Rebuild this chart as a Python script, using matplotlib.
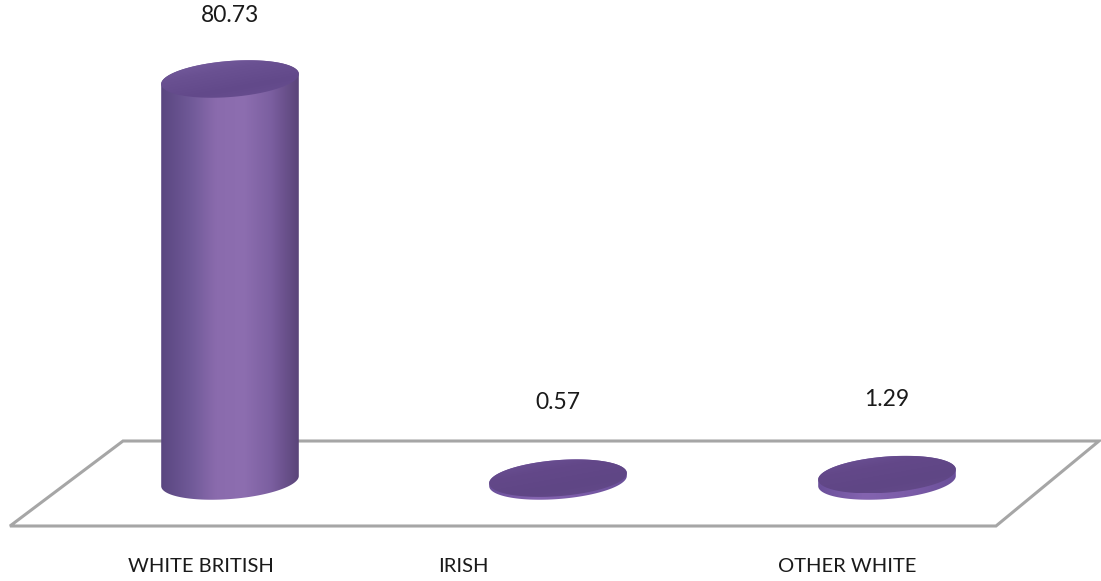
import numpy as np
import matplotlib
matplotlib.use("Agg")
import matplotlib.pyplot as plt
from matplotlib.colors import LinearSegmentedColormap
from matplotlib.patches import Polygon

# Data
categories = ["WHITE BRITISH", "IRISH", "OTHER WHITE"]
values = [80.73, 0.57, 1.29]
value_labels = ["80.73", "0.57", "1.29"]

W, H = 1101, 581
fig = plt.figure(figsize=(W / 100, H / 100), dpi=100)
ax = fig.add_axes([0, 0, 1, 1])
ax.set_xlim(0, W)
ax.set_ylim(H, 0)
ax.axis("off")

plt.rcParams["font.family"] = ["Lato", "DejaVu Sans"]

# Floor geometry (pixel-like coordinates, y grows downward)
floor = np.array([[123, 441], [1099, 441], [996, 526], [10, 526]])
ax.add_patch(Polygon(floor, closed=True, facecolor="white", edgecolor="#a6a6a6",
                     linewidth=2.2, zorder=1))

# Bar layout
bar_x = [230, 558, 887]
base_y = 481
rx, ry = 69, 18
tilt = np.deg2rad(-4.5)
px_per_unit = 402 / 80.73

side_cmap = LinearSegmentedColormap.from_list(
    "side", ["#5a4680", "#6e5896", "#8a6bad", "#8d6eb0", "#7b5fa0", "#5a4479"])
top_cmap = LinearSegmentedColormap.from_list(
    "top", ["#7a61a3", "#6a5192", "#62498a", "#6b5193"])


def ellipse_pts(cx, cy, n=400):
    t = np.linspace(0, 2 * np.pi, n, endpoint=False)
    x = rx * np.cos(t) * np.cos(tilt) - ry * np.sin(t) * np.sin(tilt)
    y = rx * np.cos(t) * np.sin(tilt) + ry * np.sin(t) * np.cos(tilt)
    return np.column_stack([cx + x, cy + y])


def split_arcs(pts):
    """Return (upper arc left->right, lower arc right->left) of an ellipse."""
    i0, i1 = np.argmin(pts[:, 0]), np.argmax(pts[:, 0])
    n = len(pts)
    idx_a = [(i1 + k) % n for k in range((i0 - i1) % n + 1)]
    idx_b = [(i0 + k) % n for k in range((i1 - i0) % n + 1)]
    arc_a, arc_b = pts[idx_a], pts[idx_b]  # a: right->left, b: left->right
    if arc_a[:, 1].mean() > arc_b[:, 1].mean():
        return arc_b, arc_a
    return arc_a[::-1], arc_b[::-1]


grad = np.linspace(0, 1, 256)[None, :]

for i, (cx, v) in enumerate(zip(bar_x, values)):
    h = v * px_per_unit
    top_cy = base_y - h
    bot = ellipse_pts(cx, base_y)
    top = ellipse_pts(cx, top_cy)
    top_upper, _ = split_arcs(top)
    _, bot_lower = split_arcs(bot)
    side = np.vstack([top_upper, bot_lower])
    side_patch = Polygon(side, closed=True, facecolor="none", edgecolor="none", zorder=2)
    ax.add_patch(side_patch)
    x0, x1 = side[:, 0].min(), side[:, 0].max()
    y0, y1 = side[:, 1].min(), side[:, 1].max()
    cmap = side_cmap if h > 20 else LinearSegmentedColormap.from_list(
        "disk_side", ["#6a4f99", "#8464b0", "#7b5ca8", "#6a4f99"])
    im = ax.imshow(grad, cmap=cmap, extent=[x0, x1, y1, y0], aspect="auto",
                   zorder=2, interpolation="bicubic")
    im.set_clip_path(side_patch)

    # top face
    top_patch = Polygon(top, closed=True, facecolor="none", edgecolor="none", zorder=3)
    ax.add_patch(top_patch)
    tx0, tx1 = top[:, 0].min(), top[:, 0].max()
    ty0, ty1 = top[:, 1].min(), top[:, 1].max()
    tgrad = np.linspace(0, 1, 256)[:, None] * 0.6 + np.linspace(0, 1, 256)[None, :] * 0.4
    tcmap = top_cmap if h > 20 else LinearSegmentedColormap.from_list(
        "disk_top", ["#6f559a", "#634889", "#5f4685", "#664c8c"])
    im2 = ax.imshow(tgrad, cmap=tcmap, extent=[tx0, tx1, ty1, ty0], aspect="auto",
                    zorder=3, interpolation="bicubic")
    im2.set_clip_path(top_patch)

# Value labels above each bar
label_offset = [63, 76, 75]
for cx, v, lab, off in zip(bar_x, values, value_labels, label_offset):
    ax.text(cx, base_y - v * px_per_unit - off, lab, ha="center", va="center",
            fontsize=16.5, color="#1a1a1a", zorder=5)

# Category labels along the front edge
cat_x = [201, 463, 847]
for x, c in zip(cat_x, categories):
    ax.text(x, 567, c, ha="center", va="center", fontsize=14.5, color="#1a1a1a", zorder=5)

fig.savefig("out.png", dpi=100, facecolor="white")
